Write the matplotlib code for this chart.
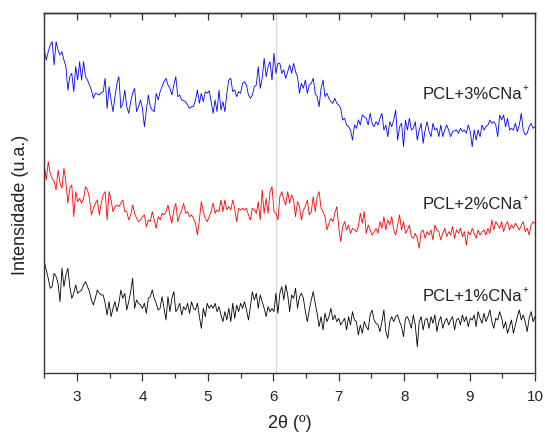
import numpy as np
import matplotlib.pyplot as plt
from matplotlib.ticker import MultipleLocator

plt.rcParams['font.family'] = ['Liberation Sans', 'DejaVu Sans']

# Varredura 2θ: início 2.5°, passo 0.03°, 251 pontos
inicio = 2.5
passo = 0.03
n_pontos = 251
dois_theta = np.round(inicio + passo * np.arange(n_pontos), 2)

# Intensidades (u.a.) de cada amostra, sem deslocamento
pcl_3 = [
    300, 270, 295, 315, 325, 255, 325, 300, 285, 295,
    270, 250, 180, 220, 230, 175, 250, 210, 265, 210,
    265, 220, 210, 195, 180, 155, 170, 168, 165, 172,
    175, 215, 125, 190, 150, 115, 160, 200, 220, 125,
    140, 180, 130, 110, 145, 170, 185, 115, 130, 150,
    125, 70, 120, 165, 130, 120, 115, 170, 150, 175,
    190, 205, 215, 195, 185, 165, 195, 220, 160, 165,
    150, 148, 145, 135, 125, 130, 130, 150, 180, 140,
    170, 145, 175, 170, 178, 145, 110, 150, 115, 180,
    120, 145, 115, 170, 210, 215, 175, 180, 160, 175,
    170, 200, 205, 195, 165, 155, 165, 190, 195, 250,
    185, 215, 275, 220, 250, 265, 210, 290, 230, 260,
    260, 230, 240, 215, 235, 255, 230, 260, 235, 220,
    170, 200, 185, 210, 170, 195, 200, 215, 170, 160,
    130, 185, 210, 160, 170, 155, 145, 140, 155, 140,
    135, 125, 90, 95, 75, 70, 60, 30, 75, 65,
    90, 75, 105, 100, 95, 75, 110, 80, 70, 85,
    75, 95, 110, 60, 75, 40, 85, 70, 90, 120,
    30, 70, 80, 10, 90, 60, 95, 60, 65, 85,
    30, 60, 80, 20, 60, 85, 55, 40, 80, 60,
    65, 40, 75, 40, 60, 75, 60, 40, 55, 58,
    60, 50, 65, 55, 60, 50, 75, 55, 10, 60,
    30, 60, 40, 75, 60, 70, 75, 90, 80, 85,
    75, 40, 105, 90, 105, 70, 95, 60, 65, 60,
    80, 55, 75, 110, 60, 45, 50, 70, 80, 65,
    70,
]

pcl_2 = [
    255, 210, 265, 230, 215, 205, 180, 240, 200, 185,
    245, 205, 140, 185, 195, 100, 175, 145, 155, 140,
    155, 190, 180, 155, 105, 125, 140, 150, 105, 140,
    165, 175, 90, 175, 150, 115, 130, 135, 130, 140,
    150, 115, 115, 90, 105, 135, 110, 95, 85, 90,
    100, 105, 70, 90, 85, 115, 90, 65, 100, 90,
    110, 105, 115, 135, 105, 80, 120, 140, 85, 105,
    120, 140, 110, 115, 100, 105, 95, 80, 45, 90,
    145, 115, 95, 85, 100, 115, 140, 110, 120, 115,
    150, 115, 150, 120, 130, 120, 150, 125, 85, 125,
    120, 125, 120, 125, 105, 90, 125, 120, 110, 145,
    90, 180, 110, 155, 110, 175, 190, 115, 110, 90,
    160, 175, 150, 135, 175, 140, 165, 150, 100, 145,
    130, 90, 120, 130, 150, 105, 115, 160, 115, 160,
    175, 125, 115, 100, 60, 80, 95, 85, 110, 130,
    70, 25, 70, 85, 60, 75, 50, 65, 60, 55,
    70, 110, 80, 115, 50, 75, 60, 45, 55, 65,
    50, 85, 65, 100, 60, 90, 75, 100, 60, 45,
    75, 105, 60, 85, 50, 60, 75, 40, 35, 50,
    35, 5, 55, 60, 35, 55, 45, 60, 30, 75,
    60, 55, 30, 50, 65, 40, 55, 45, 70, 35,
    60, 50, 65, 40, 55, 15, 55, 45, 65, 50,
    35, 60, 45, 55, 60, 45, 65, 50, 90, 60,
    85, 75, 65, 85, 55, 75, 85, 60, 75, 65,
    80, 70, 60, 75, 85, 55, 65, 45, 75, 85,
    80,
]

pcl_1 = [
    265, 240, 215, 185, 190, 230, 220, 200, 145, 245,
    190, 225, 245, 190, 155, 170, 195, 170, 175, 180,
    195, 205, 190, 175, 150, 135, 155, 180, 170, 165,
    165, 140, 105, 145, 100, 125, 145, 115, 140, 180,
    155, 170, 120, 145, 175, 215, 125, 150, 140, 135,
    125, 140, 110, 155, 160, 180, 155, 140, 120, 125,
    160, 125, 90, 160, 115, 155, 175, 115, 125, 140,
    105, 130, 120, 140, 110, 145, 125, 120, 140, 100,
    65, 125, 100, 140, 125, 135, 125, 140, 115, 130,
    105, 85, 115, 90, 125, 85, 140, 95, 135, 115,
    140, 125, 145, 120, 90, 130, 175, 150, 170, 125,
    165, 145, 125, 100, 130, 115, 125, 115, 170, 110,
    170, 190, 150, 195, 165, 115, 165, 155, 185, 125,
    160, 170, 155, 115, 85, 120, 150, 175, 140, 110,
    70, 100, 60, 110, 85, 100, 125, 90, 105, 85,
    95, 75, 85, 95, 60, 100, 75, 115, 90, 85,
    45, 75, 50, 85, 70, 60, 105, 120, 90, 80,
    75, 55, 85, 120, 55, 35, 85, 100, 85, 100,
    105, 85, 70, 40, 95, 100, 85, 65, 105, 75,
    10, 85, 100, 60, 90, 95, 65, 100, 80, 105,
    55, 85, 100, 65, 85, 95, 75, 90, 100, 60,
    90, 95, 75, 105, 85, 100, 70, 95, 90, 105,
    70, 115, 95, 80, 110, 85, 100, 120, 85, 65,
    95, 90, 115, 95, 65, 85, 50, 70, 90, 50,
    75, 100, 120, 90, 105, 85, 55, 95, 115, 85,
    100,
]

amostras = ['PCL+1%CNa', 'PCL+2%CNa', 'PCL+3%CNa']
series = [pcl_1, pcl_2, pcl_3]
cores = ['#000000', '#ff0000', '#0000ff']
deslocamentos = [70, 370, 670]
pos_rotulo = [230, 505, 835]

fig = plt.figure(figsize=(5.45, 4.32), dpi=100)
ax = fig.add_axes([0.0813, 0.1359, 0.9004, 0.834])

ax.axvline(6.04, color='#d6d6d6', lw=0.9, zorder=0)

for nome, y, cor, d, yr in zip(amostras, series, cores, deslocamentos, pos_rotulo):
    ax.plot(dois_theta, np.array(y) + d, color=cor, lw=0.6)
    ax.text(9.80, yr, nome, ha='right', va='center', fontsize=12, color='#222222')
    # carga "+" em sobrescrito pequeno
    ax.text(9.81, yr + 20, '+', ha='left', va='center', fontsize=7, color='#222222')

ax.set_xlim(2.5, 10)
ax.set_ylim(0, 1081)
ax.set_yticks([])
ax.xaxis.set_major_locator(MultipleLocator(1))
ax.xaxis.set_minor_locator(MultipleLocator(0.5))
ax.tick_params(axis='x', which='major', direction='out', length=6, width=0.9,
               labelsize=11, colors='#333333', labelcolor='#222222', pad=6)
ax.tick_params(axis='x', which='minor', direction='out', length=3.5, width=0.9,
               colors='#333333')

# eixo superior com marcas para dentro
topo = ax.secondary_xaxis('top')
topo.xaxis.set_major_locator(MultipleLocator(1))
topo.xaxis.set_minor_locator(MultipleLocator(0.5))
topo.tick_params(axis='x', which='major', direction='in', length=5, width=0.9,
                 labeltop=False, colors='#333333')
topo.tick_params(axis='x', which='minor', direction='in', length=3, width=0.9,
                 colors='#333333')
topo.spines['top'].set_color('#333333')
topo.spines['top'].set_linewidth(1.0)

for lado in ['left', 'right', 'bottom', 'top']:
    ax.spines[lado].set_color('#333333')
    ax.spines[lado].set_linewidth(1.0)

fig.text(290 / 545, 1 - 424 / 432, '2θ (º)', ha='center', va='center',
         fontsize=13, color='#222222')
fig.text(21 / 545, 1 - 205 / 432, 'Intensidade (u.a.)', ha='center', va='center',
         rotation=90, fontsize=13, color='#222222')

fig.savefig('out.png', dpi=100)
